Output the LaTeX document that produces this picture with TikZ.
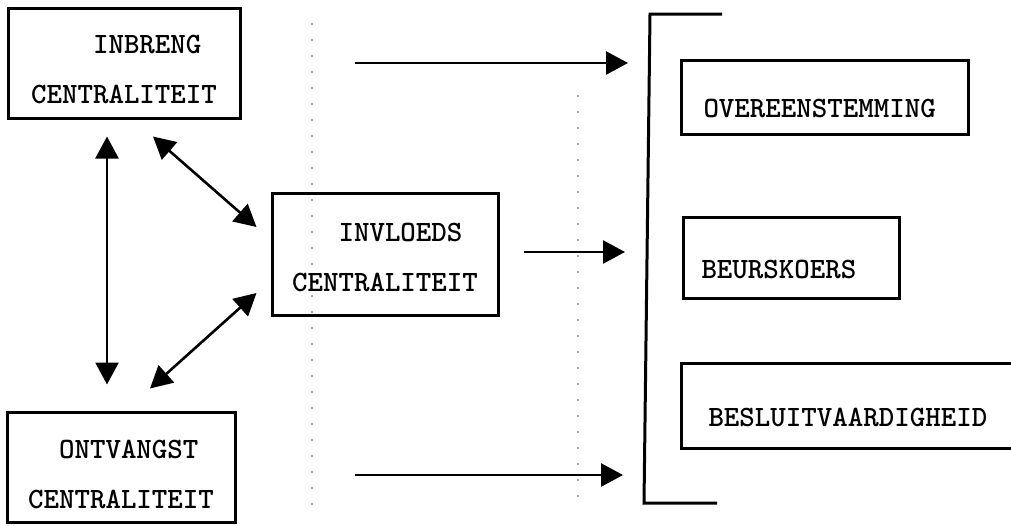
\documentclass[tikz,border=0pt]{standalone}
\usetikzlibrary{arrows.meta,calc}
\begin{document}
\begin{tikzpicture}[x=0.5pt, y=-0.5pt,
    font=\fontsize{14.75}{25}\selectfont\ttfamily\bfseries,
    cbox/.style={draw, line width=1.5pt, align=left, inner sep=0pt},
    outbox/.style={draw, line width=1.5pt, anchor=north west, align=left,
        inner ysep=0pt, text height=20pt, text depth=0pt},
    flow/.style={line width=1.3pt, -{Triangle[length=11pt,width=11.5pt]}},
    both/.style={line width=1.3pt,
        {Triangle[length=11pt,width=11.5pt]}-{Triangle[length=11pt,width=11.5pt]}},
    fold/.style={gray!70, line width=0.6pt, dash pattern=on 1pt off 7pt}]
    \useasboundingbox (0,0) rectangle (1011,525);

    % Fold marks of the scanned page
    \draw[fold] (312,23) -- (312,505);
    \draw[fold] (578,95) -- (578,510);

    % Centrality measures (left)
    \node[cbox, minimum width=116pt, minimum height=55pt] (inbreng) at (124,63)
        {\rule{0pt}{16pt}~~~~INBRENG\\CENTRALITEIT};
    \node[cbox, minimum width=113pt, minimum height=61pt] (invloeds) at (385,254)
        {\rule{0pt}{13pt}~~~INVLOEDS\\CENTRALITEIT};
    \node[cbox, minimum width=114pt, minimum height=55pt] (ontvangst) at (121,467)
        {\rule{0pt}{17pt}~~ONTVANGST\\CENTRALITEIT};

    % Mutual relations
    \draw[both] ($(inbreng.south)+(-17,17)$) -- ($(ontvangst.north)+(-14,-26)$);
    \draw[both] ($(inbreng.south)+(29,17)$) -- ($(invloeds.west)+(-14,-27)$);
    \draw[both] ($(invloeds.west)+(-14,39)$) -- ($(ontvangst.north)+(29,-22)$);

    % Outcomes (right)
    \draw[line width=1.5pt] (722,14) -- (650,14) -- (644,503) -- (717,503);
    \node[outbox, inner xsep=11pt, text width=121.5pt, minimum height=37pt] (overeen) at (680,59)
        {OVEREENSTEMMING};
    \node[outbox, inner xsep=9pt, text width=90pt, minimum height=40.5pt] (koers) at (682,216)
        {BEURSKOERS};
    \node[outbox, inner xsep=13.5pt, text width=148pt, minimum height=42.5pt] (besluit) at (680,362)
        {BESLUITVAARDIGHEID};

    % Effects towards the outcomes
    \coordinate (topin) at (355,63);
    \coordinate (topout) at (628,63);
    \coordinate (midin) at ($(invloeds.east)+(24,-2)$);
    \coordinate (midout) at (625,252);
    \coordinate (botin) at (355,475);
    \coordinate (botout) at (623,475);
    \draw[flow] (topin) -- (topout);
    \draw[flow] (midin) -- (midout);
    \draw[flow] (botin) -- (botout);
\end{tikzpicture}
\end{document}
